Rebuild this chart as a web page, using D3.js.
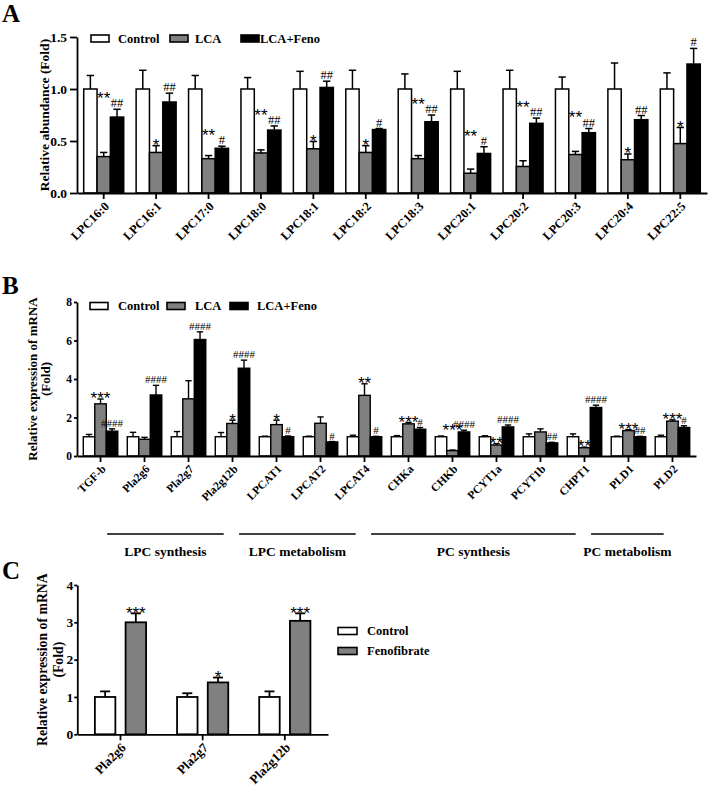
<!DOCTYPE html>
<html><head><meta charset="utf-8">
<script src="https://cdn.jsdelivr.net/npm/d3@7/dist/d3.min.js"></script>
<style>
body{margin:0;background:#fff}
svg text{font-family:"Liberation Serif","Times New Roman",serif;fill:#000;}
</style>
</head><body>
<svg id="chart" width="709" height="788"></svg>
<script>
// ---------------- Panel A data ----------------
const lpcCategories = ["LPC16:0","LPC16:1","LPC17:0","LPC18:0","LPC18:1","LPC18:2","LPC18:3","LPC20:1","LPC20:2","LPC20:3","LPC20:4","LPC22:5"];
const lpcControl    = [1,1,1,1,1,1,1,1,1,1,1,1];
const lpcControlErr = [0.13,0.18,0.13,0.11,0.17,0.18,0.145,0.17,0.18,0.115,0.25,0.155];
const lpcLCA        = [0.35,0.39,0.33,0.385,0.425,0.39,0.33,0.19,0.255,0.37,0.32,0.475];
const lpcLCAErr     = [0.04,0.065,0.03,0.03,0.07,0.065,0.03,0.04,0.055,0.03,0.055,0.155];
const lpcFeno       = [0.73,0.875,0.43,0.605,1.015,0.61,0.685,0.38,0.67,0.58,0.705,1.24];
const lpcFenoErr    = [0.075,0.085,0.02,0.04,0.06,0.01,0.065,0.065,0.05,0.04,0.04,0.15];
const lpcLCASig     = ["**","*","**","**","*","*","**","**","**","**","*","*"];
const lpcFenoSig    = ["##","##","#","##","##","#","##","#","##","##","##","#"];
const lpcYTicks     = [0,0.5,1.0,1.5];

// ---------------- Panel B data ----------------
const geneCategories = ["TGF-b","Pla2g6","Pla2g7","Pla2g12b","LPCAT1","LPCAT2","LPCAT4","CHKa","CHKb","PCYT1a","PCYT1b","CHPT1","PLD1","PLD2"];
const geneControl    = [1,1,1,1,1,1,1,1,1,1,1,1,1,1];
const geneControlErr = [0.12,0.23,0.27,0.22,0.03,0.03,0.08,0.06,0.04,0.05,0.15,0.15,0.03,0.08];
const geneLCA        = [2.71,0.87,2.97,1.69,1.63,1.70,3.15,1.67,0.28,0.57,1.25,0.43,1.32,1.81];
const geneLCAErr     = [0.25,0.10,0.94,0.17,0.23,0.33,0.60,0.07,0.03,0.07,0.16,0.03,0.05,0.07];
const geneFeno       = [1.29,3.17,6.05,4.56,1.00,0.73,1.00,1.39,1.25,1.51,0.68,2.52,1.00,1.48];
const geneFenoErr    = [0.12,0.50,0.40,0.42,0.04,0.02,0.02,0.09,0.09,0.10,0.03,0.12,0.02,0.09];
const geneLCASig     = ["***","","","*","*","","**","***","***","**","","**","***","***"];
const geneFenoSig    = ["####","####","####","####","#","#","#","#","####","####","##","####","##","#"];
const geneYTicks     = [0,2,4,6,8];
const pathwayNames   = ["LPC synthesis","LPC metabolism","PC synthesis","PC metabolism"];
const pathwayFirst   = ["Pla2g6","LPCAT1","CHKa","PLD1"];
const pathwayLast    = ["Pla2g12b","LPCAT4","CHPT1","PLD2"];

// ---------------- Panel C data ----------------
const cCategories = ["Pla2g6","Pla2g7","Pla2g12b"];
const cControl    = [1,1,1];
const cControlErr = [0.15,0.10,0.15];
const cFeno       = [3.00,1.39,3.04];
const cFenoErr    = [0.24,0.13,0.20];
const cFenoSig    = ["***","*","***"];
const cYTicks     = [0,1,2,3,4];

const SERIF = '"Liberation Serif","Times New Roman",serif';
const SANS = '"Liberation Sans",Arial,sans-serif';
const svg = d3.select("#chart");

function grouped(cfg){
  const g = svg.append("g");
  const x = d3.scaleBand().domain(cfg.cats).range(cfg.xRange).paddingInner(cfg.pi).paddingOuter(cfg.po);
  const sub = d3.scaleBand().domain(cfg.series.map(s=>s.name)).range([0,x.bandwidth()]).paddingInner(cfg.subPad);
  const y = d3.scaleLinear().domain(cfg.yDomain).range(cfg.yRange);
  const bw = sub.bandwidth();
  const cap = Math.min(bw*0.55, 10);
  const cx = (c,s)=> x(c)+sub(s)+bw/2;

  cfg.series.forEach(s=>{
    const data = cfg.cats.map((c,i)=>({c, v:s.values[i], e:s.errs[i]}));
    const eg = g.append("g").attr("stroke","#000").attr("stroke-width",cfg.sw);
    eg.selectAll("line.v").data(data).join("line").attr("class","v")
      .attr("x1",d=>cx(d.c,s.name)).attr("x2",d=>cx(d.c,s.name))
      .attr("y1",d=>y(d.v)).attr("y2",d=>y(d.v+d.e));
    eg.selectAll("line.c").data(data).join("line").attr("class","c")
      .attr("x1",d=>cx(d.c,s.name)-cap/2).attr("x2",d=>cx(d.c,s.name)+cap/2)
      .attr("y1",d=>y(d.v+d.e)).attr("y2",d=>y(d.v+d.e));
    g.append("g").selectAll("rect").data(data).join("rect")
      .attr("x",d=>x(d.c)+sub(s.name)).attr("y",d=>y(d.v))
      .attr("width",bw).attr("height",d=>y(0)-y(d.v))
      .attr("fill",s.fill).attr("stroke","#000").attr("stroke-width",cfg.sw);
  });

  // significance labels
  const hashSeries = cfg.series.find(s=>s.sigType==="hash");
  const hashTop = {};
  if (hashSeries){
    cfg.cats.forEach((c,i)=>{
      const t = hashSeries.sigs[i]; const base = y(hashSeries.values[i]+hashSeries.errs[i]) - 2;
      hashTop[c] = base - 0.68*cfg.hashFont;
      if(!t) return;
      svg.append("text").text(t).attr("x",cx(c,hashSeries.name)).attr("y",base)
        .attr("text-anchor","middle").attr("font-size",cfg.hashFont).style("font-family",SERIF);
    });
  }
  cfg.series.filter(s=>s.sigType==="star").forEach(s=>{
    cfg.cats.forEach((c,i)=>{
      const t = s.sigs[i]; if(!t) return;
      const off = 0.43*cfg.starFont;
      let base = y(s.values[i]+s.errs[i]) - 2 + off;
      if (hashSeries && cfg.stack==="label" && t.length>=2) base = Math.min(base, hashTop[c] - 2 + off);
      if (hashSeries && cfg.stack==="bar" && t.length>=3) base = Math.min(base, y(hashSeries.values[i]+hashSeries.errs[i]) - 2 + off);
      svg.append("text").text(t).attr("x",cx(c,s.name)).attr("y",base)
        .attr("text-anchor","middle").attr("font-size",cfg.starFont).style("font-family",SANS);
    });
  });

  // x axis: ticks via d3 axis, labels drawn as 45-degree rotated texts
  const xa = g.append("g").attr("transform",`translate(0,${y(0)})`)
    .call(d3.axisBottom(x).tickSize(6).tickSizeOuter(0).tickFormat(""));
  xa.select(".domain").attr("stroke-width",cfg.axisW);
  xa.selectAll(".tick line").attr("stroke-width",cfg.axisW);
  xa.selectAll(".tick text").remove();
  cfg.cats.forEach(c=>{
    const d = 0.35*cfg.xFont*0.7071;
    const tx = +(x(c)+x.bandwidth()/2 + 3 + d).toFixed(1);
    const ty = +(y(0) + 11 + d).toFixed(1);
    svg.append("text").text(c)
      .attr("transform",`matrix(0.7071,-0.7071,0.7071,0.7071,${tx},${ty})`)
      .attr("text-anchor","end")
      .attr("font-size",cfg.xFont).attr("font-weight","bold");
  });

  const ya = g.append("g").attr("transform",`translate(${cfg.xRange[0]},0)`)
    .call(d3.axisLeft(y).tickValues(cfg.yTicks).tickFormat(cfg.yFmt).tickSize(cfg.yTickSize).tickSizeOuter(0).tickPadding(cfg.yTickPad));
  ya.attr("font-size",cfg.yFont).attr("font-weight","bold");
  ya.select(".domain").attr("stroke-width",cfg.axisW);
  ya.selectAll(".tick line").attr("stroke-width",cfg.axisW);

  // y title
  cfg.yTitle.forEach((t,k)=>{
    const tx = cfg.yTitleX[k], ty = (cfg.yRange[0]+cfg.yRange[1])/2;
    svg.append("text").text(t).attr("x",tx).attr("y",ty).attr("transform",`rotate(-90,${tx},${ty})`)
      .attr("text-anchor","middle").attr("dy","0.35em").attr("font-size",cfg.yTitleFont).attr("font-weight","bold");
  });
  return {g,x,y};
}

function legend(items, pos){
  items.forEach((it,k)=>{
    const px = pos.x[k], py = pos.y[k];
    svg.append("rect").attr("x",px).attr("y",py).attr("width",pos.w).attr("height",pos.h)
      .attr("fill",it.fill).attr("stroke","#000").attr("stroke-width",1.6);
    svg.append("text").text(it.name).attr("x",pos.tx[k]).attr("y",py+pos.h/2).attr("dy","0.35em")
      .attr("font-size",pos.font).attr("font-weight","bold");
  });
}

function panelLetter(t,x,y){
  svg.append("text").text(t).attr("x",x).attr("y",y).attr("font-size",25).attr("font-weight","bold");
}

const WHITE="#ffffff", GRAY="#808080", BLACK="#000000";

// ---------- Panel A ----------
panelLetter("A",2,22);
grouped({
  cats: lpcCategories,
  series:[
    {name:"Control", values:lpcControl, errs:lpcControlErr, fill:WHITE},
    {name:"LCA", values:lpcLCA, errs:lpcLCAErr, fill:GRAY, sigs:lpcLCASig, sigType:"star"},
    {name:"LCA+Feno", values:lpcFeno, errs:lpcFenoErr, fill:BLACK, sigs:lpcFenoSig, sigType:"hash"}
  ],
  xRange:[77,707], pi:0.237, po:0.128, subPad:0,
  yDomain:[0,1.5], yRange:[193,37], yTicks:lpcYTicks, yFmt:d3.format(".1f"), yTickSize:7, yTickPad:3,
  sw:1.5, axisW:1.8, xFont:12.5, yFont:13.5, hashFont:12.5, starFont:17, stack:"label",
  yTitle:["Relative abundance (Fold)"], yTitleX:[44], yTitleFont:13.5
});
legend([{name:"Control",fill:WHITE},{name:"LCA",fill:GRAY},{name:"LCA+Feno",fill:BLACK}],
  {x:[91,170,241], y:[35,35,35], w:18, h:7, tx:[118,195,260], font:12.5});

// ---------- Panel B ----------
panelLetter("B",2,294);
const B = grouped({
  cats: geneCategories,
  series:[
    {name:"Control", values:geneControl, errs:geneControlErr, fill:WHITE},
    {name:"LCA", values:geneLCA, errs:geneLCAErr, fill:GRAY, sigs:geneLCASig, sigType:"star"},
    {name:"LCA+Feno", values:geneFeno, errs:geneFenoErr, fill:BLACK, sigs:geneFenoSig, sigType:"hash"}
  ],
  xRange:[77,696], pi:0.216, po:0.143, subPad:0,
  yDomain:[0,8], yRange:[456,302], yTicks:geneYTicks, yFmt:d3.format("d"), yTickSize:3, yTickPad:2,
  sw:1.4, axisW:1.8, xFont:11.5, yFont:11.5, hashFont:11, starFont:17, stack:"bar",
  yTitle:["Relative expression of mRNA","(Fold)"], yTitleX:[32,45], yTitleFont:13
});
legend([{name:"Control",fill:WHITE},{name:"LCA",fill:GRAY},{name:"LCA+Feno",fill:BLACK}],
  {x:[90,167,230], y:[302.5,302.5,302.5], w:18, h:7, tx:[118,195,257], font:12.5});

// pathway brackets
{
  const step = B.x.step(), half = B.x.bandwidth()/2;
  const lineY = B.y(0) + 78;
  pathwayNames.forEach((n,k)=>{
    const x1 = B.x(pathwayFirst[k]) + half - 0.85*step;
    const x2 = B.x(pathwayLast[k]) + half - 0.2*step;
    svg.append("line").attr("x1",x1).attr("x2",x2).attr("y1",lineY).attr("y2",lineY)
      .attr("stroke","#000").attr("stroke-width",1.3);
    svg.append("text").text(n).attr("x",(x1+x2)/2).attr("y",lineY+22)
      .attr("text-anchor","middle").attr("font-size",13.5).attr("font-weight","bold");
  });
}

// ---------- Panel C ----------
panelLetter("C",2,579);
grouped({
  cats: cCategories,
  series:[
    {name:"Control", values:cControl, errs:cControlErr, fill:WHITE},
    {name:"Fenofibrate", values:cFeno, errs:cFenoErr, fill:GRAY, sigs:cFenoSig, sigType:"star"}
  ],
  xRange:[77.3,328], pi:0.377, po:0.214, subPad:0.333,
  yDomain:[0,4], yRange:[734.3,585], yTicks:cYTicks, yFmt:d3.format("d"), yTickSize:3, yTickPad:1,
  sw:1.8, axisW:1.8, xFont:13, yFont:13.5, hashFont:11, starFont:17, stack:"none",
  yTitle:["Relative expression of mRNA","(Fold)"], yTitleX:[42,58], yTitleFont:13.75
});
legend([{name:"Control",fill:WHITE},{name:"Fenofibrate",fill:GRAY}],
  {x:[338,338], y:[627.5,647.5], w:19, h:7, tx:[367,367], font:12.5});
</script>
</body></html>
